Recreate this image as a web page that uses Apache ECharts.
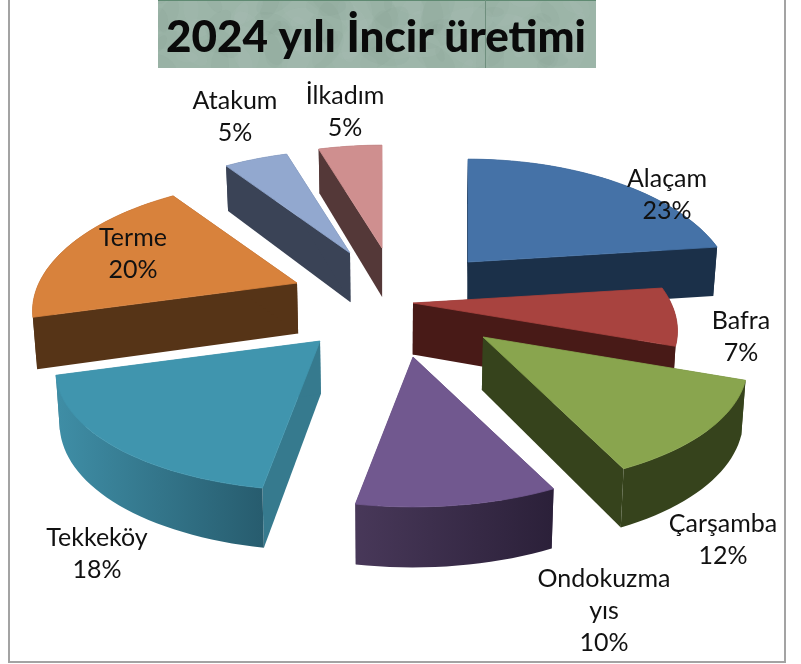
<!DOCTYPE html>
<html><head><meta charset="utf-8">
<style>html,body{margin:0;padding:0;background:#fff}#c{width:801px;height:664px}</style>
<script src="https://cdn.jsdelivr.net/npm/echarts@6/dist/echarts.min.js"></script>
</head><body><div id="c"></div>
<script>
const chartTitle = '2024 yılı İncir üretimi';
const categories = ['Alaçam','Bafra','Çarşamba','Ondokuzma\nyıs','Tekkeköy','Terme','Atakum','İlkadım'];
const values = [23,7.4,12.4,10,17.9,19.7,4.8,4.8];

// styling / layout, kept apart from the values
const topColors  = ['#4572a7','#a8433f','#89a54e','#71588f','#4095ae','#d8823c','#92a8cf','#cf8f8f'];
const cutColors  = ['#1b3049','#481a17','#36431c','#453556','#367a8e','#563417','#3a4356','#543838'];
const rimFrom    = ['#1b3049','#481a17','#36431c','#483859','#3f8ea6','#563417','#3a4356','#543838'];
const rimTo      = ['#1b3049','#481a17','#36431c','#2b2039','#275c6e','#563417','#3a4356','#543838'];
const explode    = [[78,-38],[23,3],[93,37],[23,57],[-70,41],[-93,-17],[-40,-47],[-8,-52]];
const paintOrder = [7,6,0,5,1,4,3,2];
const labelAt    = [[667,195],[741,337],[723,540],[604,611],[97,554],[133,254],[235,117],[345,112]];
const C = {x:390,y:300}, RAD = 258, RADY = 122, PERSP_X = 0.22, PERSP_Y = 0.186;

const total = values.reduce((a,b)=>a+b,0);
const spans = []; { let a = 0; values.forEach(v=>{ const b = a + v/total*360; spans.push([a,b]); a = b; }); }

function rim(deg, off){
  const t = deg*Math.PI/180, c = Math.cos(t);
  return [C.x+off[0]+RAD*Math.sin(t)/(1+PERSP_X*c), C.y+off[1]-RADY*c/(1+PERSP_Y*c)];
}
function drop(p){ // extrude a top point down to the base of the slice
  return [p[0]+(C.x-p[0])*0.012, p[1]+49+(p[1]-250)*0.045];
}
function arcPts(a,b,off){ const n = Math.max(4,Math.ceil((b-a)/2)), o=[]; for(let i=0;i<=n;i++) o.push(rim(a+(b-a)*i/n,off)); return o; }

function renderSlice(params){
  const i = params.dataIndex, off = explode[i], sp = spans[i];
  const apex = [C.x+off[0],C.y+off[1]], arc = arcPts(sp[0],sp[1],off);
  const z = paintOrder.indexOf(i)*4;
  const quad = (a,b,fill)=>({type:'polygon',z2:z,shape:{points:[a,b,drop(b),drop(a)]},style:{fill}});
  const wall = arc.concat(arc.slice().reverse().map(drop));
  const children = [
    quad(apex,arc[0],cutColors[i]),
    quad(apex,arc[arc.length-1],cutColors[i]),
    {type:'polygon',z2:z+1,shape:{points:wall},style:{
      fill:{type:'linear',x:0,y:0,x2:1,y2:0,colorStops:[{offset:0,color:rimFrom[i]},{offset:1,color:rimTo[i]}]}}},
    {type:'polygon',z2:z+2,shape:{points:[apex].concat(arc)},style:{fill:topColors[i],stroke:topColors[i],lineWidth:.8}}
  ];
  return {type:'group',children};
}
function renderLabel(params){
  const i = params.dataIndex, p = labelAt[i];
  return {type:'text',x:p[0],y:p[1],style:{
    text:categories[i]+'\n'+Math.round(values[i]/total*100)+'%',
    font:'25px Lato, "Open Sans", sans-serif',fill:'#111',align:'center',verticalAlign:'middle',lineHeight:32}};
}
// marble-like texture for the title band
const tex = document.createElement('canvas'); tex.width=600; tex.height=68;
(function(){
  const g = tex.getContext('2d'); g.fillStyle='#9cb5a8'; g.fillRect(0,0,600,68);
  for(let n=0;n<90;n++){
    const x=158+(n*137)%438, y=(n*41)%68, r=8+(n*7)%22;
    g.fillStyle = n%2 ? 'rgba(190,210,198,.08)' : 'rgba(120,140,125,.07)';
    g.beginPath(); g.ellipse(x,y,r,r/2,(n*0.7)%3,0,Math.PI*2); g.fill();
  }
})();

const chart = echarts.init(document.getElementById('c'),null,{renderer:'canvas'});
const seriesData = categories.map((n,i)=>({name:n,value:values[i]}));
chart.setOption({
  animation:false,
  backgroundColor:'#fff',
  graphic:[
    {type:'rect',z:0,shape:{x:9,y:-5,width:776,height:667},style:{fill:'#fff',stroke:'#a3a3a3',lineWidth:2}},
    {type:'rect',z:1,shape:{x:158,y:0,width:438,height:68},style:{fill:{image:tex,repeat:'repeat'}}},
    {type:'rect',z:1,shape:{x:158,y:0,width:438,height:1},style:{fill:'#5f8a72'}},
    {type:'rect',z:1,shape:{x:485,y:0,width:1,height:68},style:{fill:'#6f8f7e'}}
  ],
  title:{text:chartTitle,left:371,top:33,textAlign:'center',textVerticalAlign:'middle',z:5,
    textStyle:{fontFamily:'Lato',fontWeight:900,fontSize:44,color:'#0a0a0a'}},
  series:[
    {type:'custom',coordinateSystem:'none',silent:true,z:3,renderItem:renderSlice,data:seriesData},
    {type:'custom',coordinateSystem:'none',silent:true,z:4,renderItem:renderLabel,data:seriesData}
  ]
});
</script></body></html>
